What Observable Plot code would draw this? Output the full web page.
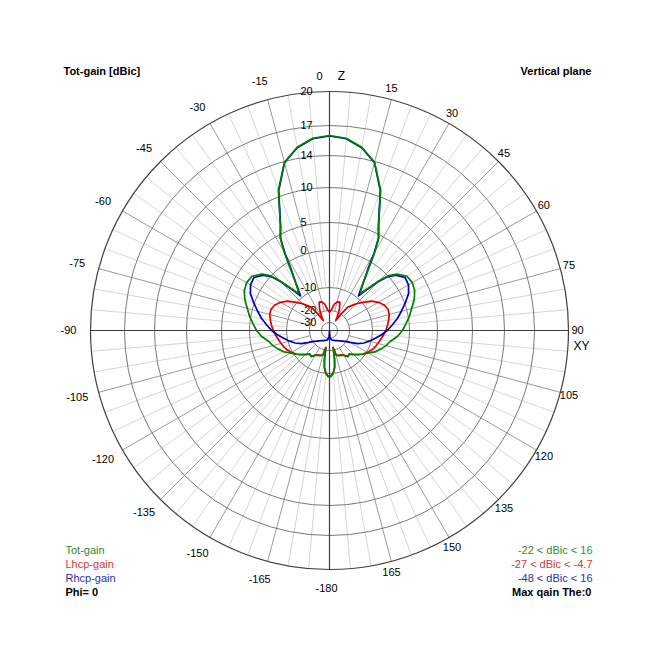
<!DOCTYPE html>
<html><head><meta charset="utf-8">
<script src="https://cdn.jsdelivr.net/npm/d3@7"></script>
<script src="https://cdn.jsdelivr.net/npm/@observablehq/plot@0.6"></script>
<style>
html,body{margin:0;padding:0;background:#fff;}
#chart{width:657px;height:657px;}
</style></head><body><div id="chart"></div>
<script>
// ---- data (theta in degrees, 0 = Z up, clockwise positive) ----
const angles = [-180,-178,-175,-172,-170,-168,-165,-160,-155,-150,-145,-140,-135,-130,-125,-120,-115,-110,-105,-100,-95,-90,-85,-80,-75,-70,-65,-60,-55,-50,-47,-45,-42,-40,-38,-35,-32,-30,-28,-25,-20,-15,-10,-5,0,5,10,15,20,25,28,30,32,35,38,40,42,45,47,50,55,60,65,70,75,80,85,90,95,100,105,110,115,120,125,130,135,140,145,150,155,160,165,168,170,172,175,178,180];

const totGain = [-9.0,-9.2,-10.0,-12.5,-16.0,-22.0,-17.6,-17.0,-16.8,-16.2,-14.8,-15.2,-13.8,-12.3,-10.7,-9.5,-8.0,-6.9,-5.8,-4.9,-3.2,-1.9,-0.9,0.2,0.9,1.8,2.5,2.8,2.6,1.4,0.0,-2.5,-6.5,-8.6,-7.8,-5.5,-1.2,1.9,4.5,6.2,10.8,13.9,15.1,15.8,16.0,15.8,15.1,13.9,10.8,6.2,4.5,1.9,-1.2,-5.5,-7.8,-8.6,-6.5,-2.5,0.0,1.4,2.6,2.8,2.5,1.8,0.9,0.2,-0.9,-1.9,-3.2,-4.9,-5.8,-6.9,-8.0,-9.5,-10.7,-12.3,-13.8,-15.2,-14.8,-16.2,-16.8,-17.0,-17.6,-22.0,-16.0,-12.5,-10.0,-9.2,-9.0];

const lhcpGain = [-9.2,-9.4,-10.2,-12.7,-16.2,-22.3,-17.8,-17.2,-17.0,-16.4,-15.0,-15.4,-14.0,-12.5,-10.9,-9.8,-9.1,-8.5,-8.1,-7.6,-7.0,-6.4,-5.9,-5.4,-4.9,-4.8,-5.3,-6.4,-7.8,-9.8,-11.2,-12.3,-14.0,-15.0,-15.8,-20.0,-27.0,-24.5,-22.0,-18.5,-15.6,-15.8,-17.2,-19.8,-21.3,-19.8,-17.2,-15.8,-15.6,-18.5,-22.0,-24.5,-27.0,-20.0,-15.8,-15.0,-14.0,-12.3,-11.2,-9.8,-7.8,-6.4,-5.3,-4.8,-4.9,-5.4,-5.9,-6.4,-7.0,-7.6,-8.1,-8.5,-9.1,-9.8,-10.9,-12.5,-14.0,-15.4,-15.0,-16.4,-17.0,-17.2,-17.8,-22.3,-16.2,-12.7,-10.2,-9.4,-9.2];

const rhcpGain = [-48.0,-40.0,-33.0,-30.5,-29.2,-28.8,-28.4,-28.0,-27.6,-27.0,-26.5,-25.6,-24.5,-23.0,-20.8,-18.3,-15.2,-12.8,-10.8,-9.2,-7.6,-6.0,-4.6,-3.0,-1.5,0.1,1.3,2.0,2.2,1.1,-0.4,-3.0,-7.2,-9.4,-8.2,-5.6,-2.0,1.6,4.3,6.1,10.7,13.85,15.05,15.75,15.95,15.75,15.05,13.85,10.7,6.1,4.3,1.6,-2.0,-5.6,-8.2,-9.4,-7.2,-3.0,-0.4,1.1,2.2,2.0,1.3,0.1,-1.5,-3.0,-4.6,-6.0,-7.6,-9.2,-10.8,-12.8,-15.2,-18.3,-20.8,-23.0,-24.5,-25.6,-26.5,-27.0,-27.6,-28.0,-28.4,-28.8,-29.2,-30.5,-33.0,-40.0,-48.0];

const ringValues = [20, 17, 14, 10, 5, 0, -10, -20, -30];
const ringLabels = ["20", "17", "14", "10", "5", "0", "-10", "-20", "-30"];
const angleTicks = [-180,-165,-150,-135,-120,-105,-90,-75,-60,-45,-30,-15,15,30,45,60,75,90,105,120,135,150,165];
const angleTickLabels = ["-180","-165","-150","-135","-120","-105","-90","-75","-60","-45","-30","-15","15","30","45","60","75","90","105","120","135","150","165"];
const seriesNames = ["Tot-gain", "Lhcp-gain", "Rhcp-gain"];
const seriesRanges = ["-22 < dBic < 16", "-27 < dBic < -4.7", "-48 < dBic < 16"];

// ---- radial (dB -> px) scale of the polar grid ----
const radialDomain = [-50, -40, -30, -20, -10, 0, 5, 10, 14, 17, 20];
const radialRange  = [0, 3, 8, 20, 43, 80, 108, 143, 175, 205, 239];
const radius = d3.scaleLinear().domain(radialDomain).range(radialRange).clamp(true);
const R = radius(20);
const rad = a => a * Math.PI / 180;
const px = (a, r) => r * Math.sin(rad(a));
const py = (a, r) => r * Math.cos(rad(a));

const lineColors = ["#008000", "#e00000", "#0000c0"];
const textColors = ["#2e8e2e", "#d03a3a", "#3030a0"];
const gains = [totGain, lhcpGain, rhcpGain];

const curveData = seriesNames.map((name, i) =>
  angles.map((a, j) => ({name, angle: a, gain: gains[i][j]})));

const minorSpokes = d3.range(0, 360, 5).filter(a => a % 15 !== 0);
const majorSpokes = d3.range(0, 360, 15).filter(a => a % 90 !== 0);
const axisLines = [0, 90];

const font = "'Liberation Sans', Arial, sans-serif";
const FS = 11;

const labelR = a => (a > 0 && a < 180) ? R + 12 : R + 19;

const marks = [
  Plot.link(minorSpokes, {
    x1: a => px(a, radius(-10)), y1: a => py(a, radius(-10)),
    x2: a => px(a, R), y2: a => py(a, R),
    stroke: "#d6d6d6", strokeWidth: 1
  }),
  Plot.link(majorSpokes, {
    x1: a => px(a, radius(-20)), y1: a => py(a, radius(-20)),
    x2: a => px(a, R), y2: a => py(a, R),
    stroke: "#9a9a9a", strokeWidth: 1
  }),
  Plot.dot(ringValues.slice(1), {
    x: () => 0, y: () => 0, r: d => radius(d),
    stroke: "#7a7a7a", fill: "none", strokeWidth: 1
  }),
  Plot.dot([20], {
    x: () => 0, y: () => 0, r: d => radius(d),
    stroke: "#404040", fill: "none", strokeWidth: 1.2
  }),
  Plot.link(axisLines, {
    x1: a => px(a, R), y1: a => py(a, R),
    x2: a => px(a + 180, R), y2: a => py(a + 180, R),
    stroke: "#404040", strokeWidth: 1.2
  }),
  // ring labels
  Plot.text(ringValues, {
    x: () => 0, y: d => radius(d), text: (d, i) => ringLabels[i],
    textAnchor: "start", dx: -29, fontSize: FS, fontFamily: font, fill: "#000"
  }),
  // angle labels
  Plot.text(angleTicks, {
    x: a => px(a, labelR(a)), y: a => py(a, labelR(a)),
    text: (d, i) => angleTickLabels[i],
    dx: -3, fontSize: FS, fontFamily: font, fill: "#000"
  }),
  Plot.text(["0"], {x: () => 0, y: () => R + 15, dx: -10, fontSize: FS, fontFamily: font, fill: "#000"}),
  Plot.text(["Z"], {x: () => 0, y: () => R + 15, dx: 12, fontSize: FS + 1, fontFamily: font, fill: "#000"}),
  Plot.text(["XY"], {x: () => R + 12, y: () => 0, dx: 1, dy: 16, fontSize: FS + 1, fontFamily: font, fill: "#000"}),
];

// curves: red, blue, then green on top
[1, 2, 0].forEach(i => {
  marks.push(Plot.line(curveData[i], {
    x: d => px(d.angle, radius(d.gain)),
    y: d => py(d.angle, radius(d.gain)),
    stroke: lineColors[i], strokeWidth: 1.7, strokeLinejoin: "round"
  }));
});

// corner texts
marks.push(
  Plot.text(["Tot-gain [dBic]"], {frameAnchor: "top-left", textAnchor: "start", lineAnchor: "middle", dx: 63, dy: 71, fontSize: FS, fontWeight: "bold", fontFamily: font, fill: "#000"}),
  Plot.text(["Vertical plane"], {frameAnchor: "top-right", textAnchor: "end", lineAnchor: "middle", dx: -66, dy: 71, fontSize: FS, fontWeight: "bold", fontFamily: font, fill: "#000"}),
  Plot.text(["Phi= 0"], {frameAnchor: "top-left", textAnchor: "start", lineAnchor: "middle", dx: 65, dy: 592, fontSize: FS, fontWeight: "bold", fontFamily: font, fill: "#000"}),
  Plot.text(["Max qain The:0"], {frameAnchor: "top-right", textAnchor: "end", lineAnchor: "middle", dx: -66, dy: 592, fontSize: FS, fontWeight: "bold", fontFamily: font, fill: "#000"})
);
seriesNames.forEach((n, i) => {
  marks.push(Plot.text([n], {frameAnchor: "top-left", textAnchor: "start", lineAnchor: "middle", dx: 65, dy: 550 + i * 14, fontSize: FS, fontFamily: font, fill: textColors[i]}));
  marks.push(Plot.text([seriesRanges[i]], {frameAnchor: "top-right", textAnchor: "end", lineAnchor: "middle", dx: -65, dy: 550 + i * 14, fontSize: FS, fontFamily: font, fill: textColors[i]}));
});

const chart = Plot.plot({
  width: 657, height: 657, margin: 0,
  x: {domain: [-329, 328], axis: null},
  y: {domain: [-327, 330], axis: null},
  r: {type: "identity"},
  style: {background: "#fff", fontFamily: font},
  marks
});
document.getElementById("chart").appendChild(chart);
</script>
</body></html>
